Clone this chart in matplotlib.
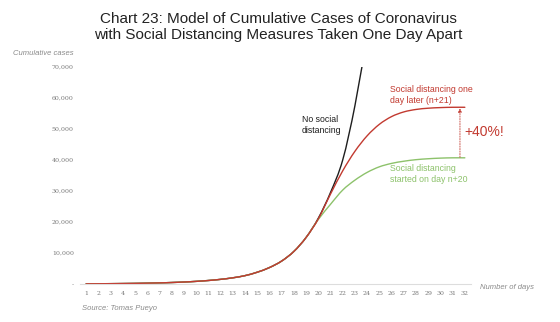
import matplotlib
matplotlib.use("Agg")
import matplotlib.pyplot as plt
from matplotlib.path import Path
from matplotlib.patches import PathPatch

plt.rcParams['font.family'] = ['Liberation Sans', 'DejaVu Sans']

days = list(range(1, 33))

# Shared early growth (days 1-19)
early = [60, 80, 110, 150, 200, 270, 360, 480, 640, 850, 1130, 1500, 2000,
         2700, 3800, 5300, 7400, 10500, 15000]

no_distancing = early + [21200, 29500, 40000, 57500, 80000]
later_n21 = early + [21000, 29000, 36500, 42800, 47800, 51500, 54000, 55500,
                     56300, 56700, 56900, 57000, 57000]
started_n20 = early + [20800, 25700, 30300, 33500, 36000, 37800, 38900, 39600,
                       40100, 40400, 40600, 40700, 40700]

y_ticks = [0, 10000, 20000, 30000, 40000, 50000, 60000, 70000]
y_labels = ["-", "10,000", "20,000", "30,000", "40,000", "50,000", "60,000", "70,000"]

RED = "#c23a30"
GREEN = "#8dc26b"
BLACK = "#1e1e1e"
GREY = "#8a8a8a"


def smooth_line(ax, xs, ys, color, lw=1.0):
    """Draw a smoothed (Catmull-Rom style Bezier) line through the points."""
    pts = list(zip(xs, ys))
    n = len(pts)
    verts = [pts[0]]
    codes = [Path.MOVETO]
    for i in range(n - 1):
        p0 = pts[i - 1] if i > 0 else pts[i]
        p1 = pts[i]
        p2 = pts[i + 1]
        p3 = pts[i + 2] if i + 2 < n else pts[i + 1]
        c1 = (p1[0] + (p2[0] - p0[0]) / 6.0, p1[1] + (p2[1] - p0[1]) / 6.0)
        c2 = (p2[0] - (p3[0] - p1[0]) / 6.0, p2[1] - (p3[1] - p1[1]) / 6.0)
        verts += [c1, c2, p2]
        codes += [Path.CURVE4] * 3
    patch = PathPatch(Path(verts, codes), facecolor="none", edgecolor=color,
                      lw=lw, capstyle="round", joinstyle="round")
    ax.add_patch(patch)
    return patch


fig = plt.figure(figsize=(5.6, 3.22), dpi=100)
ax = fig.add_axes([0.143, 0.118, 0.698, 0.674])

smooth_line(ax, days[:len(no_distancing)], no_distancing, BLACK)
smooth_line(ax, days, started_n20, GREEN)
smooth_line(ax, days, later_n21, RED)

ax.set_xlim(0.5, 32.5)
ax.set_ylim(0, 70000)
ax.set_xticks(days)
ax.set_xticklabels([str(d) for d in days])
ax.set_yticks(y_ticks)
ax.set_yticklabels(y_labels)
ax.tick_params(axis='both', length=0, labelsize=4.5, labelcolor="#777777")
ax.tick_params(axis='x', pad=5)
ax.tick_params(axis='y', pad=4.5)
for lbl in ax.get_xticklabels() + ax.get_yticklabels():
    lbl.set_family('DejaVu Serif')

for side in ("left", "right", "top"):
    ax.spines[side].set_visible(False)
ax.spines["bottom"].set_color("#dddddd")
ax.spines["bottom"].set_linewidth(0.8)

# Gap between the two distancing scenarios
ax.annotate("", xy=(31.6, later_n21[-1] - 400), xytext=(31.6, started_n20[-1] + 200),
            arrowprops=dict(arrowstyle="-|>", color=RED, lw=0.6, ls=(0, (1.5, 1.5)),
                            mutation_scale=5, shrinkA=0, shrinkB=0))

ax.text(18.65, 51200, "No social\ndistancing", fontsize=6.3, color=BLACK,
        va="center", ha="left", linespacing=1.3)
ax.text(25.85, 61000, "Social distancing one\nday later (n+21)", fontsize=6.3, color=RED,
        va="center", ha="left", linespacing=1.3)
ax.text(25.85, 35500, "Social distancing\nstarted on day n+20", fontsize=6.3, color=GREEN,
        va="center", ha="left", linespacing=1.3)
ax.text(32.0, 49000, "+40%!", fontsize=10, color=RED, va="center", ha="left")

fig.text(0.497, 0.962, "Chart 23: Model of Cumulative Cases of Coronavirus\n"
         "with Social Distancing Measures Taken One Day Apart",
         ha="center", va="top", fontsize=11, color="#222222", linespacing=1.2)
fig.text(0.131, 0.835, "Cumulative cases", ha="right", va="center", fontsize=5.5,
         style="italic", color=GREY)
fig.text(0.857, 0.108, "Number of days", ha="left", va="center", fontsize=5.5,
         style="italic", color=GREY)
fig.text(0.146, 0.043, "Source: Tomas Pueyo", ha="left", va="center", fontsize=5.5,
         style="italic", color=GREY)

fig.savefig("out.png", dpi=100, facecolor="white")
